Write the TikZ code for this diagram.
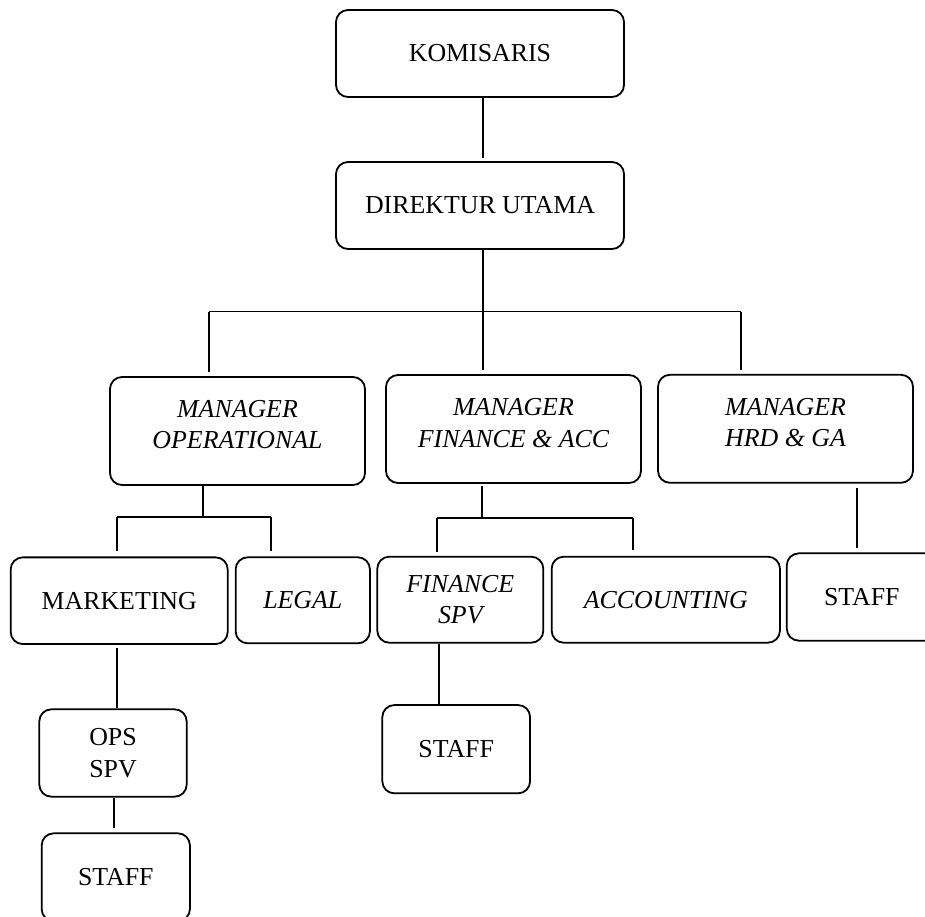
\documentclass[tikz,border=0pt]{standalone}
\usepackage{fontspec}
\setmainfont{Liberation Serif}
\usetikzlibrary{calc}
\begin{document}
\begin{tikzpicture}[x=0.75pt,y=-0.75pt,
  every node/.style={font=\fontsize{19.4}{23.6}\selectfont},
  box/.style={draw, line width=1.35pt, rounded corners=9pt, inner sep=0pt, align=center},
  mgr/.style={box, minimum width=191.25pt, minimum height=81pt},
  it/.style={font=\fontsize{19.4}{23.6}\selectfont\itshape},
  conn/.style={line width=1.35pt}]
\useasboundingbox (0,0) rectangle (925,917);

% boxes
\node[box, minimum width=216pt, minimum height=65.25pt] (kom) at (480,53.5) {KOMISARIS};
\node[box, minimum width=216pt, minimum height=65.25pt] (dir) at (480,205.5) {DIREKTUR UTAMA};

\node[mgr, label={[it, align=center, yshift=5pt]center:MANAGER\\OPERATIONAL}] (mo) at (237.5,431) {};
\node[mgr, label={[it, align=center, yshift=4.5pt]center:MANAGER\\FINANCE \& ACC}] (mf) at (513.5,429) {};
\node[mgr, label={[it, align=center, yshift=4.7pt]center:MANAGER\\HRD \& GA}] (mh) at (785.5,428.8) {};

\node[box, minimum width=162.75pt, minimum height=65pt] (mkt) at (119.2,600.7) {MARKETING};
\node[box, it, minimum width=100.7pt, minimum height=64.5pt] (legal) at (302.8,600.3) {LEGAL};
\node[box, it, minimum width=124.5pt, minimum height=64.5pt] (fspv) at (460.3,599.7) {FINANCE\\SPV};
\node[box, it, minimum width=171.2pt, minimum height=64.5pt] (acc) at (665.8,599.7) {ACCOUNTING};
\node[box, minimum width=112.5pt, minimum height=65.5pt] (staffr) at (861.8,597) {STAFF};

\node[box, minimum width=110.5pt, minimum height=65.5pt] (ops) at (113,753) {OPS\\SPV};
\node[box, minimum width=110.8pt, minimum height=66.2pt] (stafff) at (456.2,749.2) {STAFF};
\node[box, minimum width=111.2pt, minimum height=65.8pt] (staffb) at (115.8,877.2) {STAFF};

% junction coordinates
\coordinate (hl) at (209,311.5);
\coordinate (hr) at (741.3,311.5);
\coordinate (moj) at (202.7,517.3);
\coordinate (mol) at (116.7,517.3);
\coordinate (mor) at (270.7,517.3);
\coordinate (mfj) at (482.3,518.3);
\coordinate (mfl) at (437.3,518.3);
\coordinate (mfr) at (632.7,518.3);
\coordinate (hx) at (857.3,520);
\coordinate (mx) at (116.7,680);
\coordinate (ox) at (114.3,815);
\coordinate (fx) at (439.3,675);

% connectors
\draw[conn, shorten >=2.2pt] ([xshift=2pt]kom.south) -- ([xshift=2pt]dir.north);
\draw[conn, shorten >=3pt] ([xshift=2pt]dir.south) -- ([xshift=2pt]dir.south |- mf.north);
\draw[conn] (hl) -- (hr);
\draw[conn, shorten >=3pt] (hl) -- (hl |- mo.north);
\draw[conn, shorten >=3pt] (hr) -- (hr |- mh.north);

\draw[conn] (moj |- mo.south) -- (moj);
\draw[conn] (mol) -- (mor);
\draw[conn, shorten >=4pt] (mol) -- (mol |- mkt.north);
\draw[conn, shorten >=4pt] (mor) -- (mor |- legal.north);

\draw[conn, shorten <=1.5pt] (mfj |- mf.south) -- (mfj);
\draw[conn] (mfl) -- (mfr);
\draw[conn, shorten >=2.5pt] (mfl) -- (mfl |- fspv.north);
\draw[conn, shorten >=4.5pt] (mfr) -- (mfr |- acc.north);

\draw[conn, shorten <=3.5pt, shorten >=3pt] (hx |- mh.south) -- (hx |- staffr.north);
\draw[conn, shorten <=2.5pt] (mx |- mkt.south) -- (mx |- ops.north);
\draw[conn, shorten >=3pt] (ox |- ops.south) -- (ox |- staffb.north);
\draw[conn] (fx |- fspv.south) -- (fx |- stafff.north);
\end{tikzpicture}
\end{document}
